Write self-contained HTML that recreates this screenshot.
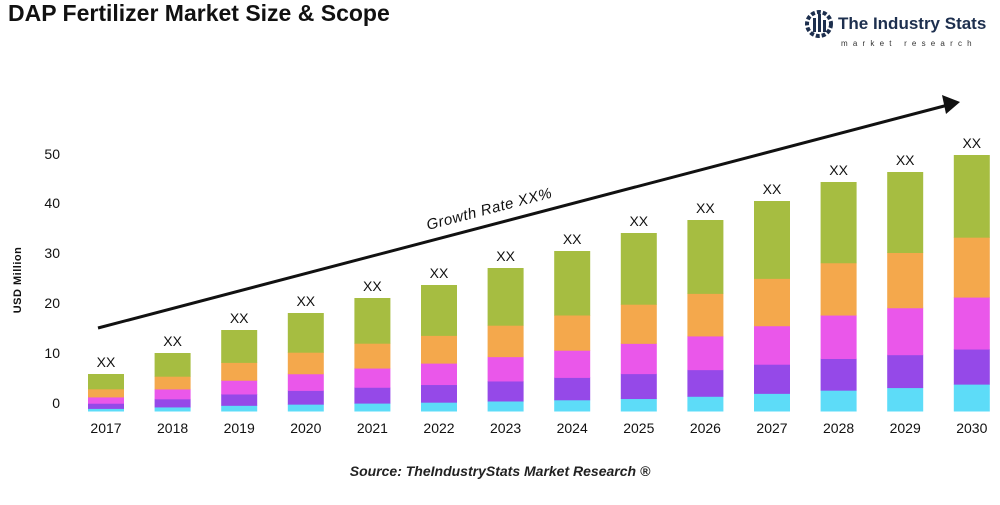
<!DOCTYPE html>
<html><head><meta charset="utf-8"><style>
body{margin:0;background:#fff;width:1000px;height:500px;overflow:hidden;font-family:"Liberation Sans",Arial,sans-serif}
</style></head><body>
<svg id="s" width="1000" height="500" xmlns="http://www.w3.org/2000/svg" font-family="Liberation Sans, Arial, sans-serif">
<text x="8" y="21" font-size="23" font-weight="bold" fill="#111">DAP Fertilizer Market Size &amp; Scope</text>
<g transform="translate(805,8)">
<circle cx="14" cy="16" r="12" fill="none" stroke="#1d2f4e" stroke-width="4" stroke-dasharray="4 2"/>
<rect x="8" y="10" width="3" height="14" fill="#1d2f4e"/><rect x="13" y="6" width="3" height="18" fill="#1d2f4e"/><rect x="18" y="12" width="3" height="12" fill="#1d2f4e"/>
<text x="33" y="21" font-size="17" font-weight="bold" fill="#1d2f4e">The Industry Stats</text>
<text x="36" y="38" font-size="8" fill="#333" letter-spacing="5.2">market research</text>
</g>
<text transform="translate(21,280) rotate(-90)" text-anchor="middle" font-size="11" font-weight="bold" fill="#111" letter-spacing="0.5">USD Million</text>
<g font-size="14" fill="#111" text-anchor="end">
<text x="60" y="408">0</text><text x="60" y="358">10</text><text x="60" y="308">20</text><text x="60" y="258">30</text><text x="60" y="208">40</text><text x="60" y="159">50</text>
</g>
<line x1="98" y1="328" x2="948" y2="105" stroke="#111" stroke-width="3"/>
<polygon points="960,102 942,95 946,114" fill="#111"/>
<text transform="translate(428,230) rotate(-14.7)" font-size="15" font-style="italic" fill="#111" letter-spacing="0.5">Growth Rate XX%</text>
<text x="500" y="476" text-anchor="middle" font-size="14" font-style="italic" font-weight="bold" fill="#222">Source: TheIndustryStats Market Research ®</text>
<g id="bars"></g>
</svg>
<script>
var tops=[374,353,330,313,298,285,268,251,233,220,201,182,172,155];
var f1=[.07,.14,.17,.22,.40], f2=[.105,.137,.203,.234,.321];
var cols=["#5ddcf8","#9549e8","#ea57ea","#f4a84c","#a6bd41"];
var g=document.getElementById('bars'),h='';
for(var i=0;i<14;i++){
 var cx=106+i*66.6,x=cx-18,bot=411,tot=bot-tops[i];
 var t=Math.max(0,(i-8)/5),y=bot;
 for(var k=0;k<5;k++){var fr=f1[k]*(1-t)+f2[k]*t;var hh=tot*fr;h+='<rect x="'+x+'" y="'+(y-hh)+'" width="36" height="'+(hh+0.5)+'" fill="'+cols[k]+'"/>';y-=hh;}
 h+='<text x="'+cx+'" y="'+(tops[i]-7)+'" text-anchor="middle" font-size="14" fill="#111">XX</text>';
 h+='<text x="'+cx+'" y="433" text-anchor="middle" font-size="14" fill="#111">'+(2017+i)+'</text>';
}
g.innerHTML=h;
</script>
</body></html>
